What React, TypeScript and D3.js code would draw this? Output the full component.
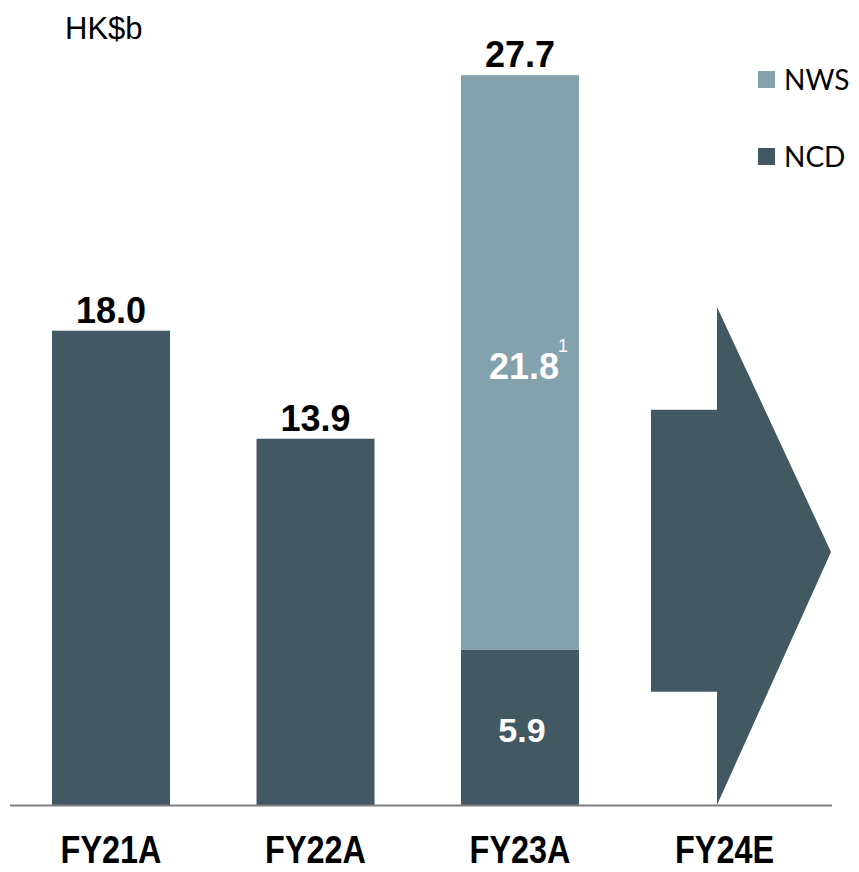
import React from "react";
import * as d3 from "d3";

const categories = ["FY21A", "FY22A", "FY23A", "FY24E"];
const ncdValues = [18.0, 13.9, 5.9, null];
const nwsValues = [0, 0, 21.8, null];
const totalLabels = ["18.0", "13.9", "27.7", ""];
const ncdInnerLabels = ["", "", "5.9", ""];
const nwsInnerLabels = ["", "", "21.8", ""];
const legendItems = ["NWS", "NCD"];
const unitLabel = "HK$b";

const W = 859;
const H = 872;
const DARK = "#425963";
const LIGHT = "#84a1ae";

export default function App() {
  const x = d3
    .scaleBand<string>()
    .domain(categories)
    .range([8.75, 826.75])
    .paddingInner(0.423)
    .paddingOuter(0.2115);
  const y = d3.scaleLinear().domain([0, 30]).range([805, 805 - 30 * 26.35]);
  const bw = x.bandwidth();
  const valueFont = "'Liberation Sans', Arial, sans-serif";

  // arrow for the estimate category (shape relative to band)
  const ab = x("FY24E")!;
  const arrowPath = d3.path();
  arrowPath.moveTo(ab - 14.5, y(15.0));
  arrowPath.lineTo(ab + 51.5, y(15.0));
  arrowPath.lineTo(ab + 51.5, y(18.9));
  arrowPath.lineTo(ab + 165.5, y(9.6));
  arrowPath.lineTo(ab + 51.5, y(0));
  arrowPath.lineTo(ab + 51.5, y(4.3));
  arrowPath.lineTo(ab - 14.5, y(4.3));
  arrowPath.closePath();

  return (
    <svg
      width={W}
      height={H}
      style={{ position: "absolute", left: 0, top: 0, display: "block" }}
    >
      <rect width={W} height={H} fill="#fff" />
      <text x={65} y={39} fontSize={31} fontFamily={valueFont} fill="#000">
        {unitLabel}
      </text>

      {categories.map((c, i) => {
        const ncd = ncdValues[i];
        if (ncd == null) return null;
        const nws = nwsValues[i] || 0;
        const x0 = x(c)!;
        const total = ncd + nws;
        return (
          <g key={c}>
            <rect x={x0} y={y(ncd)} width={bw} height={y(0) - y(ncd)} fill={DARK} />
            {nws > 0 && (
              <rect x={x0} y={y(total)} width={bw} height={y(ncd) - y(total)} fill={LIGHT} />
            )}
            <text
              x={x0 + bw / 2}
              y={y(total) - 8}
              textAnchor="middle"
              fontSize={36}
              fontWeight="bold"
              fontFamily={valueFont}
              fill="#000"
            >
              {totalLabels[i]}
            </text>
            {ncdInnerLabels[i] && (
              <text
                x={x0 + bw / 2 + 2}
                y={y(ncd / 2) + 15}
                textAnchor="middle"
                fontSize={34}
                fontWeight="bold"
                fontFamily={valueFont}
                fill="#fff"
              >
                {ncdInnerLabels[i]}
              </text>
            )}
            {nwsInnerLabels[i] && (
              <text
                x={x0 + bw / 2 + 4}
                y={y(ncd + nws * 0.5) + 17}
                textAnchor="middle"
                fontSize={36}
                fontWeight="bold"
                fontFamily={valueFont}
                fill="#fff"
              >
                {nwsInnerLabels[i]}
              </text>
            )}
            {nwsInnerLabels[i] && (
              <text
                x={x0 + bw / 2 + 43}
                y={y(ncd + nws * 0.5) - 10}
                textAnchor="middle"
                fontSize={18}
                fontFamily={valueFont}
                fill="#fff"
              >
                1
              </text>
            )}
          </g>
        );
      })}

      <path d={arrowPath.toString()} fill={DARK} />

      <line x1={10} x2={832} y1={805.5} y2={805.5} stroke="#7f7f7f" strokeWidth={2} />

      {categories.map((c) => {
        const cx = x(c)! + bw / 2;
        return (
          <text
            key={c}
            transform={`translate(${cx},863) scale(0.9,1.1)`}
            textAnchor="middle"
            fontSize={36}
            fontWeight="bold"
            fontFamily={valueFont}
            fill="#000"
          >
            {c}
          </text>
        );
      })}

      {legendItems.map((name, i) => {
        const color = name === "NWS" ? LIGHT : DARK;
        const ly = 79.5 + i * 77;
        return (
          <g key={name}>
            <rect x={758} y={ly - 8.5} width={17} height={17} fill={color} />
            <text
              x={784}
              y={ly + 10}
              fontSize={28}
              fontFamily="Lato, 'DejaVu Sans', sans-serif"
              fill="#000"
            >
              {name}
            </text>
          </g>
        );
      })}
    </svg>
  );
}
